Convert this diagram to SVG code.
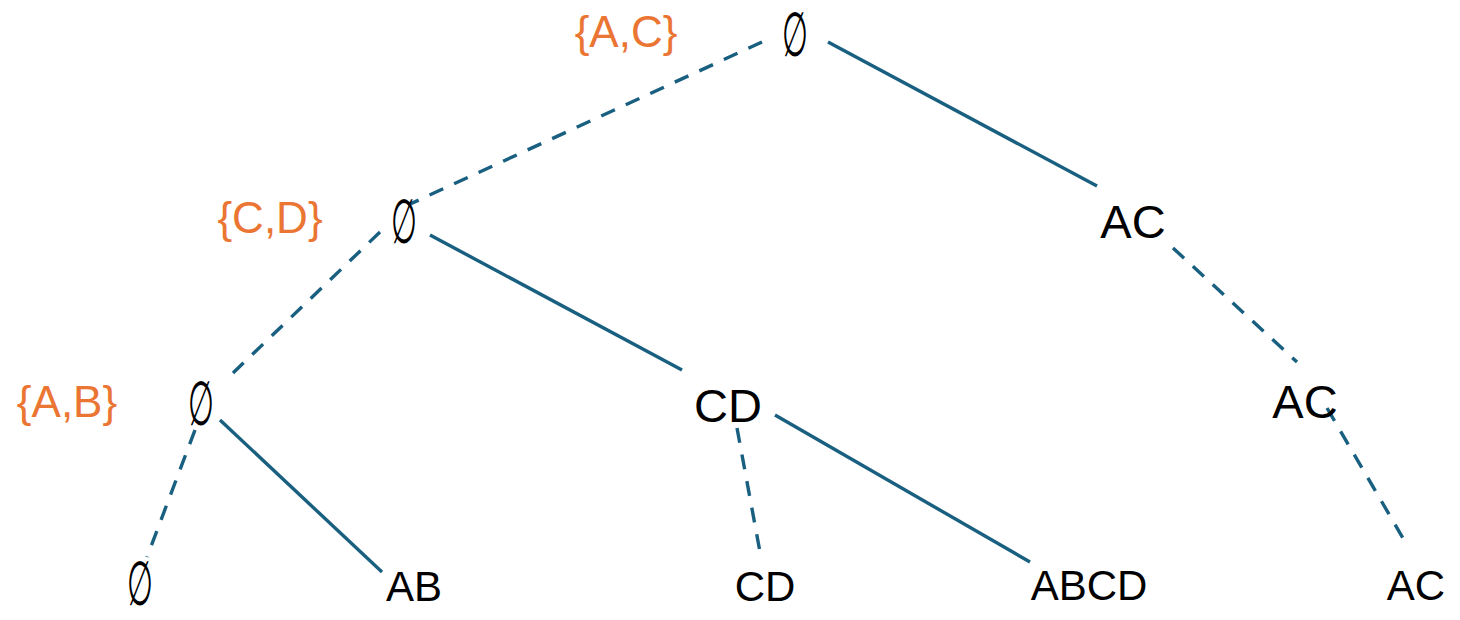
<svg xmlns="http://www.w3.org/2000/svg" width="1460" height="620" viewBox="0 0 1460 620">
<style>
.e{stroke:#195F80;stroke-width:3.4;fill:none}
.d{stroke-dasharray:15 12}
.t{font-family:"Liberation Sans",Arial,sans-serif;fill:#000;text-anchor:middle}
.big{font-size:47px}
.sm{font-size:42px}
.lab{font-family:"Liberation Sans",Arial,sans-serif;font-size:44px;fill:#EB7533;text-anchor:middle}
.es{font-family:"DejaVu Serif",serif;font-size:62px;fill:#000;text-anchor:middle}
</style>
<rect width="1460" height="620" fill="#fff"/>
<g id="connectors">
<line class="e d" x1="762" y1="42" x2="408" y2="205"/>
<line class="e" x1="828" y1="42" x2="1097" y2="186"/>
<line class="e d" x1="380" y1="232" x2="233" y2="373"/>
<line class="e" x1="430" y1="235" x2="682" y2="370"/>
<line class="e d" x1="195" y1="430" x2="147" y2="557"/>
<line class="e" x1="220" y1="420" x2="382" y2="572"/>
<line class="e d" x1="737" y1="428" x2="760" y2="552"/>
<line class="e" x1="775" y1="415" x2="1030" y2="562"/>
<line class="e d" x1="1173" y1="248" x2="1297" y2="362"/>
<line class="e d" x1="1327" y1="408" x2="1407" y2="545"/>
</g>
<g id="labels">
<text class="lab" x="626" y="47">{A,C}</text>
<text class="lab" x="270" y="233">{C,D}</text>
<text class="lab" x="67" y="417">{A,B}</text>
</g>
<g id="n-root"><text class="es" transform="translate(795,56) scale(0.48,1)">∅</text></g>
<g id="n-l1"><text class="es" transform="translate(404,243) scale(0.48,1)">∅</text></g>
<g id="n-ac1"><text class="t big" x="1133" y="238">AC</text></g>
<g id="n-l2"><text class="es" transform="translate(201,425) scale(0.48,1)">∅</text></g>
<g id="n-cd2"><text class="t big" x="728" y="422">CD</text></g>
<g id="n-ac2"><text class="t big" x="1305" y="418">AC</text></g>
<g id="n-e3"><text class="es" transform="translate(140,605) scale(0.48,1)">∅</text></g>
<g id="n-ab"><text class="t sm" x="414" y="601">AB</text></g>
<g id="n-cd3"><text class="t sm" x="765" y="601">CD</text></g>
<g id="n-abcd"><text class="t sm" x="1089" y="600">ABCD</text></g>
<g id="n-ac3"><text class="t sm" x="1416" y="600">AC</text></g>
</svg>
